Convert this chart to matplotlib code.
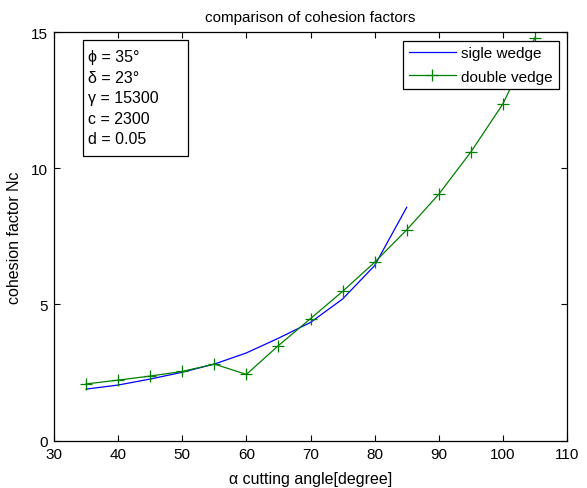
import matplotlib
matplotlib.use('Agg')
import matplotlib.pyplot as plt
from matplotlib.patches import Rectangle

plt.rcParams['font.family'] = ['Liberation Sans', 'DejaVu Sans']

# single wedge
alpha_single = [35, 40, 45, 50, 55, 60, 65, 70, 75, 80, 85]
nc_single = [1.89, 2.04, 2.26, 2.51, 2.81, 3.22, 3.76, 4.34, 5.2, 6.43, 8.57]

# double wedge
alpha_double = [35, 40, 45, 50, 55, 60, 65, 70, 75, 80, 85, 90, 95, 100, 105]
nc_double = [2.08, 2.22, 2.37, 2.54, 2.81, 2.43, 3.49, 4.48, 5.48, 6.55, 7.74,
             9.05, 10.6, 12.37, 14.8]

params = ['\u03d5 = 35\u00b0', '\u03b4 = 23\u00b0', '\u03b3 = 15300',
          'c = 2300', 'd = 0.05']

FS = 11

fig = plt.figure(figsize=(5.87, 4.89), dpi=100)
ax = fig.add_axes([0.092, 0.097, 0.874, 0.835])

ax.plot(alpha_single, nc_single, color='#0000ff', lw=0.9, label='sigle wedge')
ax.plot(alpha_double, nc_double, color='#008000', lw=0.9, marker='+',
        markersize=9, markeredgewidth=0.9, label='double vedge')

ax.set_xlim(30, 110)
ax.set_ylim(0, 15)
ax.set_xticks(range(30, 111, 10))
ax.set_yticks([0, 5, 10, 15])
ax.tick_params(direction='in', top=True, right=True, labelsize=FS,
               length=4, pad=4.5)
for s in ax.spines.values():
    s.set_linewidth(0.9)

ax.set_title('comparison of cohesion factors', fontsize=FS, pad=8)
ax.set_xlabel('\u03b1 cutting angle[degree]', fontsize=FS + 0.5, labelpad=7)
ax.set_ylabel('cohesion factor Nc', fontsize=FS + 0.5, labelpad=6)

leg = ax.legend(loc='upper right', fontsize=FS, fancybox=False,
                edgecolor='black', framealpha=1, borderaxespad=0.55,
                handlelength=3.1, handletextpad=0.35, borderpad=0.38,
                labelspacing=0.6)
leg.get_frame().set_linewidth(0.9)

# parameter box (box wider than the text, like the original)
ax.add_patch(Rectangle((0.0565, 0.697), 0.2045, 0.284, transform=ax.transAxes,
                       fc='white', ec='black', lw=0.9, zorder=4))
ax.text(0.066, 0.958, '\n'.join(params), transform=ax.transAxes,
        fontsize=FS + 0.5, va='top', ha='left', linespacing=1.46, zorder=5)

fig.savefig('out.png', dpi=100)
